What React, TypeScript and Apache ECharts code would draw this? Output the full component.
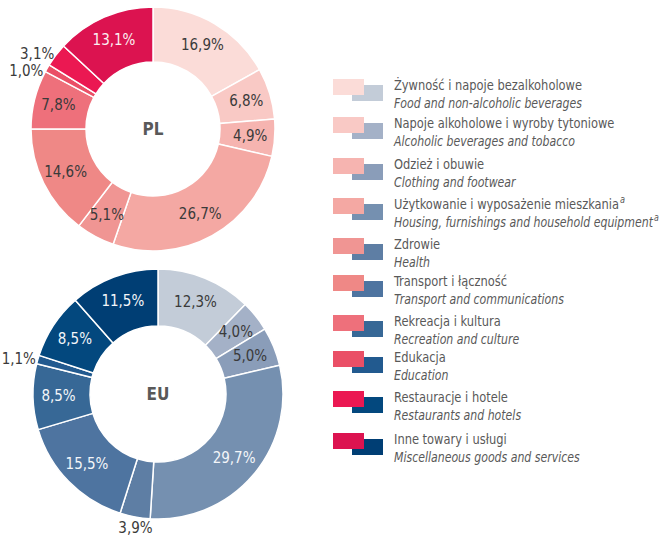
import React, { useEffect, useRef } from "react";
import * as echarts from "echarts";

const categoriesPL = [
  "Żywność i napoje bezalkoholowe",
  "Napoje alkoholowe i wyroby tytoniowe",
  "Odzież i obuwie",
  "Użytkowanie i wyposażenie mieszkania",
  "Zdrowie",
  "Transport i łączność",
  "Rekreacja i kultura",
  "Edukacja",
  "Restauracje i hotele",
  "Inne towary i usługi",
];
const categoriesEN = [
  "Food and non-alcoholic beverages",
  "Alcoholic beverages and tobacco",
  "Clothing and footwear",
  "Housing, furnishings and household equipment",
  "Health",
  "Transport and communications",
  "Recreation and culture",
  "Education",
  "Restaurants and hotels",
  "Miscellaneous goods and services",
];
const footnoteFlags = [false, false, false, true, false, false, false, false, false, false];

const plValues = [16.9, 6.8, 4.9, 26.7, 5.1, 14.6, 7.8, 1.0, 3.1, 13.1];
const euValues = [12.3, 4.0, 5.0, 29.7, 3.9, 15.5, 8.5, 1.1, 8.5, 11.5];

const plColors = [
  "#FBDCD8", "#F9C9C5", "#F6B4B0", "#F4A8A3", "#F09593",
  "#EF8886", "#EE707B", "#EA4F66", "#EB1852", "#DC1350",
];
const euColors = [
  "#C3CCD8", "#A4B1C7", "#8A9DB9", "#7590B0", "#5E7EA4",
  "#4E74A0", "#376896", "#225A8F", "#03487E", "#003E74",
];
const plLabelColors = ["#3a3a3a", "#3a3a3a", "#3a3a3a", "#3a3a3a", "#3a3a3a", "#3a3a3a", "#3a3a3a", "#3a3a3a", "#3a3a3a", "#FBEFF2"];
const euLabelColors = ["#3a3a3a", "#3a3a3a", "#3a3a3a", "#F4F6F9", "#3a3a3a", "#F4F6F9", "#F4F6F9", "#3a3a3a", "#F4F6F9", "#F4F6F9"];

const legendRowTops = [79, 117, 158, 198, 238, 275, 315, 351, 391, 433];

const FONT = "'DejaVu Sans Condensed', 'Liberation Sans Narrow', sans-serif";
const TEXT_GRAY = "#595959";

const fmt = (v: number) => v.toFixed(1).replace(".", ",") + "%";

function buildData(values: number[], colors: string[], labelColors: string[]) {
  return values.map((v, i) => {
    const outside = v < 4;
    return {
      name: categoriesPL[i],
      value: v,
      itemStyle: { color: colors[i] },
      label: {
        position: outside ? "outside" : "inside",
        color: outside ? "#3a3a3a" : labelColors[i],
      },
      labelLine: { show: false, length: 2, length2: 0 },
    };
  });
}

export default function App() {
  const ref = useRef<HTMLDivElement>(null);
  useEffect(() => {
    if (!ref.current) return;
    const chart = echarts.init(ref.current, undefined, { renderer: "svg" });

    const seriesCommon = {
      type: "pie",
      startAngle: 90,
      clockwise: true,
      avoidLabelOverlap: true,
      itemStyle: { borderColor: "#ffffff", borderWidth: 1.5 },
      label: {
        show: true,
        formatter: (p: any) => fmt(p.value),
        fontFamily: FONT,
        fontSize: 15,
        distanceToLabelLine: 0,
        overflow: "none",
        edgeDistance: 0,
      },
      labelLine: { show: false, length: 2, length2: 0 },
      emphasis: { disabled: true },
    };

    const supStyle = {
      fontSize: 10, fontStyle: "italic", fontFamily: FONT, fill: TEXT_GRAY,
      verticalAlign: "bottom", padding: [0, 0, 10, 1],
    };

    const graphics: any[] = [];
    legendRowTops.forEach((top, i) => {
      graphics.push({
        type: "rect",
        shape: { x: 352, y: top + 6, width: 31, height: 16 },
        style: { fill: euColors[i] },
      });
      graphics.push({
        type: "rect",
        shape: { x: 333, y: top, width: 31, height: 16 },
        style: { fill: plColors[i] },
      });
      const sup = footnoteFlags[i] ? "{sup|a}" : "";
      graphics.push({
        type: "text",
        x: 394,
        y: top + 6,
        scaleX: 0.91,
        style: {
          text: categoriesPL[i] + sup,
          fontFamily: FONT,
          fontSize: 14,
          fill: TEXT_GRAY,
          verticalAlign: "middle",
          rich: { sup: supStyle },
        },
      });
      graphics.push({
        type: "text",
        x: 394,
        y: top + 24,
        scaleX: 0.87,
        style: {
          text: categoriesEN[i] + sup,
          fontFamily: FONT,
          fontSize: 14,
          fontStyle: "italic",
          fill: TEXT_GRAY,
          verticalAlign: "middle",
          rich: { sup: supStyle },
        },
      });
    });
    graphics.push({
      type: "text", x: 153, y: 129,
      style: { text: "PL", fontFamily: FONT, fontSize: 17, fontWeight: "bold", fill: TEXT_GRAY, align: "center", verticalAlign: "middle" },
    });
    graphics.push({
      type: "text", x: 158, y: 394,
      style: { text: "EU", fontFamily: FONT, fontSize: 17, fontWeight: "bold", fill: TEXT_GRAY, align: "center", verticalAlign: "middle" },
    });

    chart.setOption({
      animation: false,
      backgroundColor: "#ffffff",
      series: [
        {
          ...seriesCommon,
          name: "PL",
          center: [153, 129],
          radius: [67, 122],
          data: buildData(plValues, plColors, plLabelColors),
        },
        {
          ...seriesCommon,
          name: "EU",
          center: [158, 394],
          radius: [68, 125],
          data: buildData(euValues, euColors, euLabelColors),
          labelLayout: (params: any) =>
            params.dataIndex === 4 ? { dx: 18, dy: 9 } : {},
        },
      ],
      graphic: graphics,
    });
    return () => chart.dispose();
  }, []);
  return (
    <div
      ref={ref}
      style={{ position: "fixed", left: 0, top: 0, width: 666, height: 538 }}
    />
  );
}
